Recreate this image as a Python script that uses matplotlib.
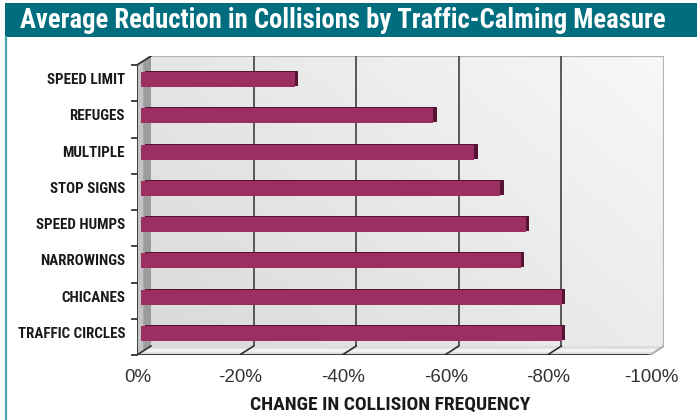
"""
Average reduction in collisions by traffic-calming measure (pseudo-3D bar chart)
"""

import matplotlib
matplotlib.use("Agg")
import matplotlib.pyplot as plt
import numpy as np
from matplotlib import font_manager
from matplotlib.patches import Rectangle, Polygon
from matplotlib.transforms import offset_copy

# data, top to bottom
measures = ["SPEED LIMIT", "REFUGES", "MULTIPLE", "STOP SIGNS",
            "SPEED HUMPS", "NARROWINGS", "CHICANES", "TRAFFIC CIRCLES"]
reduction = [30, 57, 65, 70, 75, 74, 82, 82]  # percent reduction
x_ticks = [0, 20, 40, 60, 80, 100]
x_tick_labels = ["0%", "-20%", "-40%", "-60%", "-80%", "-100%"]

TITLE = "Average Reduction in Collisions by Traffic-Calming Measure"
XLABEL = "CHANGE IN COLLISION FREQUENCY"

TEAL = "#006e7e"
TEAL_LINE = "#4fa6b3"
BAR = "#9b2f61"
BAR_DARK = "#561232"


def pick_font(names):
    available = {f.name for f in font_manager.fontManager.ttflist}
    for n in names:
        if n in available:
            return n
    return "DejaVu Sans"


narrow = pick_font(["Liberation Sans Narrow", "DejaVu Sans Condensed", "Roboto Condensed", "Liberation Sans"])
regular = pick_font(["Liberation Sans", "Arial", "DejaVu Sans"])

W, H = 697, 420
fig = plt.figure(figsize=(W / 100, H / 100), dpi=100)
fig.patch.set_facecolor("white")

# title band and left rule
fig.patches.append(Rectangle((5 / W, 1 - 37 / H), 1, 34 / H, transform=fig.transFigure,
                             facecolor=TEAL, edgecolor="none"))
fig.lines.append(plt.Line2D([6 / W, 6 / W], [0, 1 - 37 / H], transform=fig.transFigure,
                            color=TEAL_LINE, lw=1.6))
fig.text(20 / W, 1 - 20 / H, TITLE, color="white", fontsize=19.2, fontweight="bold",
         family=narrow, ha="left", va="center")

# plot plane in pixels: front 0 at x=137, front 100 at x=650, front rows 65..355
px = 100 / 513          # data units per pixel (x)
py = 8 / 290            # data units per pixel (y)
DX, DY = 14 * px, -9 * py   # depth offset front -> back

left, right = 137, 664
top, bottom = 56, 355
ax = fig.add_axes([left / W, (H - bottom) / H, (right - left) / W, (bottom - top) / H])
ax.set_xlim(0, (right - left) * px)
ax.set_ylim(7.5, 7.5 - (bottom - top) * py)
ax.axis("off")

y0, y1 = -0.5, 7.5

# back wall with gradient
grad = np.linspace(0, 1, 200)
gx, gy = np.meshgrid(grad, grad)
shade = 0.85 + 0.12 * (0.6 * gx + 0.4 * (1 - gy))
ax.imshow(shade, cmap="gray", vmin=0, vmax=1, aspect="auto", interpolation="bilinear",
          extent=(DX, 100 + DX, y1 + DY, y0 + DY), zorder=0)
ax.plot([DX, 100 + DX, 100 + DX], [y0 + DY, y0 + DY, y1 + DY], color="#b3b3b3", lw=1.6, zorder=1)

# gridlines on back wall
for xv in x_ticks[1:-1]:
    ax.plot([xv + DX, xv + DX], [y0 + DY, y1 + DY], color="#4d4d4d", lw=1.3, zorder=1)

# left wall
ax.add_patch(Polygon([(0, y0), (DX, y0 + DY), (DX, y1 + DY), (0, y1)],
                     facecolor="#c4c4c4", edgecolor="none", zorder=1))
ax.add_patch(Polygon([(DX * 0.45, y0 + DY * 0.45), (DX, y0 + DY), (DX, y1 + DY), (DX * 0.45, y1 + DY * 0.45)],
                     facecolor="#9c9c9c", edgecolor="none", zorder=1))

# floor
ax.add_patch(Polygon([(0, y1), (100, y1), (100 + DX, y1 + DY), (DX, y1 + DY)],
                     facecolor="#dcdcdc", edgecolor="none", zorder=1))
ax.add_patch(Polygon([(DX * 0.3, y1 + DY * 0.3), (100 + DX * 0.3, y1 + DY * 0.3),
                      (100 + DX * 0.7, y1 + DY * 0.7), (DX * 0.7, y1 + DY * 0.7)],
                     facecolor="#f2f2f2", edgecolor="none", zorder=1))
ax.plot([100, 100 + DX], [y1, y1 + DY], color="#a8a8a8", lw=1.2, zorder=2)
ax.plot([0, 100], [y1, y1], color="#3a3a3a", lw=1.4, zorder=2)
for xv in x_ticks:
    c = "#b0b0b0" if xv == 100 else "#2e2e2e"
    ax.plot([xv - DX * 0.45, xv + DX], [y1 - DY * 0.45, y1 + DY], color=c, lw=1.2, zorder=2)

# left wall edges and category ticks
ax.plot([0, 0], [y0, y1], color="#333333", lw=1.3, zorder=3)
ax.plot([0, DX], [y0, y0 + DY], color="#333333", lw=1.3, zorder=3)
for yb in np.arange(y0, y1 + 1):
    ax.plot([-5 * px, 0], [yb, yb], color="#333333", lw=1.3, zorder=3, clip_on=False)

# bars: dark extrusion behind, front face on top
ypos = np.arange(len(measures))
back_tr = offset_copy(ax.transData, fig=fig, x=7.5, y=4.5, units="dots")
front_tr = offset_copy(ax.transData, fig=fig, x=4, y=3.5, units="dots")
ax.barh(ypos, reduction, height=15 * py, color=BAR_DARK, transform=back_tr, zorder=4)
ax.barh(ypos, reduction, height=15 * py, color=BAR, transform=front_tr, zorder=5)

# category labels
for yi, name in zip(ypos, measures):
    ax.text(-12 * px, yi - 3 * py, name, ha="right", va="center", fontsize=10.8,
            fontweight="bold", family=narrow, color="#1a1a1a", clip_on=False)

# x tick labels
for xv, lab in zip(x_ticks, x_tick_labels):
    ax.text(xv + 1 * px, y1 + 22 * py, lab, ha="center", va="center", fontsize=13.5,
            family=regular, color="#333333", clip_on=False)

fig.text(390 / W, 1 - 405 / H, XLABEL, ha="center", va="center", fontsize=14,
         fontweight="bold", family=narrow, color="#1a1a1a")

fig.savefig("out.png", dpi=100)
